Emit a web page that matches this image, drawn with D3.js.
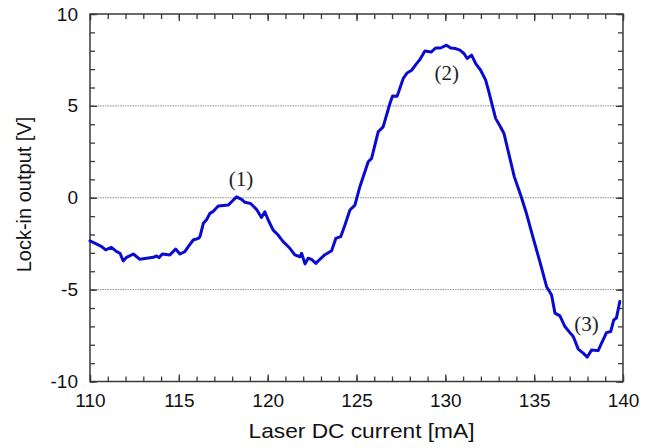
<!DOCTYPE html>
<html>
<head>
<meta charset="utf-8">
<script src="https://cdn.jsdelivr.net/npm/d3@7"></script>
<style>
  html, body { margin: 0; padding: 0; background: #fff; }
  svg { display: block; }
</style>
</head>
<body>
<svg id="chart" width="654" height="448"></svg>
<script>
// Laser DC current sweep [mA]
const current = [
  110.00, 110.38, 110.66, 110.88, 111.20, 111.50, 111.69, 111.87, 112.06, 112.44,
  112.81, 113.19, 113.56, 113.75, 113.88, 114.07, 114.50, 114.82, 115.06, 115.34,
  115.53, 115.81, 116.10, 116.19, 116.38, 116.56, 116.75, 116.94, 117.22, 117.78,
  117.97, 118.25, 118.53, 118.72, 119.04, 119.37, 119.65, 119.84, 120.03, 120.31,
  120.59, 120.87, 121.25, 121.53, 121.82, 121.91, 122.10, 122.28, 122.47, 122.71,
  122.94, 123.22, 123.60, 123.84, 124.11, 124.35, 124.63, 124.91, 125.19, 125.66,
  125.85, 126.22, 126.50, 126.88, 127.03, 127.29, 127.63, 127.85, 128.10, 128.38,
  128.57, 128.85, 129.20, 129.45, 129.73, 130.07, 130.30, 130.58, 130.82, 131.05,
  131.23, 131.48, 131.71, 131.99, 132.27, 132.45, 132.64, 132.83, 133.10, 133.30,
  133.48, 133.88, 134.27, 134.55, 134.95, 135.32, 135.70, 135.98, 136.17, 136.45,
  136.73, 137.01, 137.20, 137.48, 137.76, 137.99, 138.23, 138.60, 138.88, 139.07,
  139.31, 139.48, 139.63, 139.82
];

// Lock-in amplifier output [V]
const lockin = [
  -2.35, -2.52, -2.66, -2.84, -2.70, -2.93, -3.02, -3.44, -3.24, -3.06,
  -3.35, -3.29, -3.24, -3.17, -3.26, -3.06, -3.11, -2.79, -3.06, -2.93,
  -2.66, -2.30, -2.21, -2.12, -1.39, -1.20, -0.85, -0.74, -0.45, -0.40,
  -0.22,  0.05, -0.09, -0.25, -0.31, -0.63, -1.07, -0.76, -1.21, -1.76,
  -2.03, -2.39, -2.75, -3.11, -3.21, -3.02, -3.60, -3.29, -3.35, -3.57,
  -3.35, -3.10, -2.88, -2.21, -2.12, -1.48, -0.67, -0.40,  0.60,  1.96,
   2.14,  3.59,  3.86,  5.13,  5.54,  5.53,  6.49,  6.79,  6.94,  7.30,
   7.52,  7.99,  7.93,  8.15,  8.15,  8.30,  8.15,  8.12,  8.03,  7.85,
   7.58,  7.76,  7.30,  6.94,  6.40,  5.76,  5.04,  4.32,  3.86,  3.50,
   2.77,  1.15,  0.05, -0.80, -2.21, -3.48, -4.84, -5.29, -6.28, -6.43,
  -7.01, -7.34, -7.55, -8.24, -8.46, -8.67, -8.28, -8.32, -7.73, -7.34,
  -7.28, -6.65, -6.55, -5.65
];

const xTicks = [110, 115, 120, 125, 130, 135, 140];
const yTicks = [-10, -5, 0, 5, 10];
const gridValues = [-5, 0, 5];

// Resonance annotations: [current, voltage, text]
const peakLabels = [
  [118.5, 0.64, "(1)"],
  [130.08, 6.4, "(2)"],
  [137.95, -7.25, "(3)"]
];

const W = 654, H = 448;
const margin = { left: 90, right: 31, top: 14, bottom: 66.5 };
const iw = W - margin.left - margin.right;
const ih = H - margin.top - margin.bottom;

const svg = d3.select("#chart");
const g = svg.append("g").attr("transform", `translate(${margin.left},${margin.top})`);

const x = d3.scaleLinear().domain([110, 140]).range([0, iw]);
const y = d3.scaleLinear().domain([-10, 10]).range([ih, 0]);

const frameColor = "#3a3a3a";
const sansFont = "Arial, 'Liberation Sans', sans-serif";

// dotted reference lines
g.selectAll("line.grid").data(gridValues).join("line")
  .attr("class", "grid")
  .attr("x1", 0).attr("x2", iw)
  .attr("y1", d => y(d)).attr("y2", d => y(d))
  .attr("stroke", "#8a8a8a")
  .attr("stroke-width", 1)
  .attr("stroke-dasharray", "1.5,1");

// minor ticks (every 1 unit), pointing inward
const minorX = d3.range(110, 141, 1);
const minorY = d3.range(-10, 11, 1);
function styleAxis(sel) {
  sel.select(".domain").remove();
  sel.selectAll(".tick line").attr("stroke", frameColor).attr("stroke-width", 1.3);
}
g.append("g").attr("transform", `translate(0,${ih})`)
  .call(d3.axisBottom(x).tickValues(minorX).tickSize(-5).tickFormat(""))
  .call(styleAxis);
g.append("g")
  .call(d3.axisTop(x).tickValues(minorX).tickSize(-5).tickFormat(""))
  .call(styleAxis);
g.append("g")
  .call(d3.axisLeft(y).tickValues(minorY).tickSize(-5).tickFormat(""))
  .call(styleAxis);
g.append("g").attr("transform", `translate(${iw},0)`)
  .call(d3.axisRight(y).tickValues(minorY).tickSize(-5).tickFormat(""))
  .call(styleAxis);

// major ticks with labels
const xAxis = g.append("g").attr("transform", `translate(0,${ih})`)
  .call(d3.axisBottom(x).tickValues(xTicks).tickSize(-7).tickPadding(12).tickFormat(d => String(d)))
  .call(styleAxis);
const yAxis = g.append("g")
  .call(d3.axisLeft(y).tickValues(yTicks).tickSize(-7).tickPadding(12).tickFormat(d => String(d)))
  .call(styleAxis);
g.append("g")
  .call(d3.axisTop(x).tickValues(xTicks).tickSize(-7).tickFormat(""))
  .call(styleAxis);
g.append("g").attr("transform", `translate(${iw},0)`)
  .call(d3.axisRight(y).tickValues(yTicks).tickSize(-7).tickFormat(""))
  .call(styleAxis);

[xAxis, yAxis].forEach(a => a.selectAll("text")
  .attr("fill", "#111")
  .style("font-family", sansFont)
  .style("font-size", "19px"));

// plot frame
g.append("rect")
  .attr("x", 0).attr("y", 0).attr("width", iw).attr("height", ih)
  .attr("fill", "none")
  .attr("stroke", frameColor)
  .attr("stroke-width", 1.5);

// lock-in signal trace
const pts = current.map((c, i) => [c, lockin[i]]);
g.append("path")
  .datum(pts)
  .attr("fill", "none")
  .attr("stroke", "#0a0ad0")
  .attr("stroke-width", 3)
  .attr("stroke-linejoin", "round")
  .attr("stroke-linecap", "round")
  .attr("d", d3.line().x(d => x(d[0])).y(d => y(d[1])));

// peak annotations
g.selectAll("text.peak").data(peakLabels).join("text")
  .attr("class", "peak")
  .attr("x", d => x(d[0]))
  .attr("y", d => y(d[1]))
  .attr("text-anchor", "middle")
  .attr("fill", "#222")
  .style("font-family", "'Times New Roman', 'Liberation Serif', serif")
  .style("font-size", "21px")
  .text(d => d[2]);

// axis titles
svg.append("text")
  .attr("x", 361.5)
  .attr("y", 438)
  .attr("text-anchor", "middle")
  .attr("fill", "#111")
  .attr("textLength", 226)
  .attr("lengthAdjust", "spacingAndGlyphs")
  .style("font-family", sansFont)
  .style("font-size", "21px")
  .text("Laser DC current [mA]");

svg.append("text")
  .attr("transform", `translate(31,${194.5}) rotate(-90)`)
  .attr("text-anchor", "middle")
  .attr("fill", "#111")
  .style("font-family", sansFont)
  .style("font-size", "20px")
  .text("Lock-in output [V]");
</script>
</body>
</html>
